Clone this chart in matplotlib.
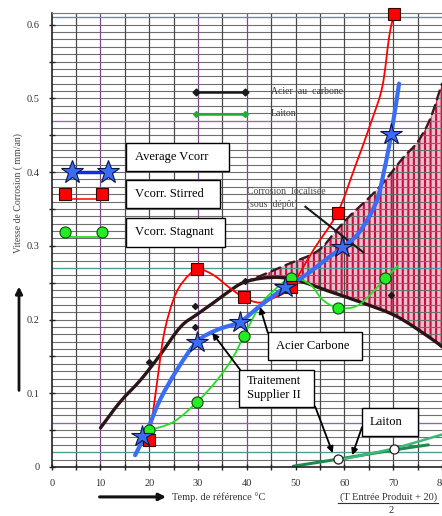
import matplotlib
matplotlib.use("Agg")
import matplotlib.pyplot as plt
from matplotlib.path import Path
from matplotlib.patches import PathPatch, Rectangle, FancyArrowPatch
from matplotlib.lines import Line2D
import numpy as np

plt.rcParams["font.family"] = ["Liberation Serif", "DejaVu Serif"]
plt.rcParams["hatch.linewidth"] = 1.5

# Vcorr measurements (markers)
avg_x = [18.6, 29.8, 38.6, 47.8, 59.6, 69.6]
avg_y = [0.042, 0.170, 0.197, 0.244, 0.298, 0.452]
stirred_x = [20.0, 29.8, 39.4, 49.0, 58.6, 70.2]
stirred_y = [0.037, 0.268, 0.230, 0.244, 0.345, 0.615]
stagnant_x = [20.0, 29.8, 39.4, 49.0, 58.6, 68.4]
stagnant_y = [0.050, 0.088, 0.178, 0.256, 0.216, 0.256]

# curves as drawn on the chart
avg_curve_x = [17.1, 19.6, 22.2, 25.7, 29.8, 33.9, 38.6, 42.6, 47.3, 52.2,
               56.3, 59.6, 63.0, 66.5, 68.2, 69.6, 71.2]
avg_curve_y = [0.016, 0.050, 0.091, 0.132, 0.170, 0.186, 0.197, 0.218, 0.241,
               0.261, 0.282, 0.298, 0.318, 0.359, 0.404, 0.452, 0.520]
stirred_curve_x = [20.0, 21.5, 23.0, 25.0, 27.0, 29.8, 33.0, 36.5, 39.4, 42.6,
                   46.0, 49.0, 53.7, 58.6, 62.0, 65.7, 67.8, 69.2, 70.2]
stirred_curve_y = [0.037, 0.110, 0.180, 0.228, 0.252, 0.268, 0.261, 0.243,
                   0.230, 0.223, 0.231, 0.244, 0.295, 0.345, 0.404, 0.472,
                   0.517, 0.585, 0.615]
stagnant_curve_x = [20.0, 24.9, 29.8, 33.9, 37.1, 39.4, 42.6, 45.3, 49.0, 52.9,
                    55.5, 58.6, 62.4, 65.5, 68.4, 71.0]
stagnant_curve_y = [0.050, 0.061, 0.088, 0.118, 0.148, 0.178, 0.218, 0.238,
                    0.256, 0.248, 0.227, 0.216, 0.218, 0.235, 0.256, 0.273]

# Acier au carbone reference curve and points
carbon_x = [10.0, 14.0, 18.2, 22.0, 26.4, 29.8, 33.2, 36.3, 39.2, 43.0, 47.0,
            51.0, 57.0, 64.0, 70.8, 77.6, 80.0]
carbon_y = [0.053, 0.088, 0.118, 0.150, 0.190, 0.207, 0.223, 0.238, 0.250,
            0.256, 0.257, 0.252, 0.238, 0.222, 0.204, 0.175, 0.163]
carbon_pts_x = [20.0, 29.4, 29.4, 39.6, 69.6]
carbon_pts_y = [0.143, 0.219, 0.190, 0.252, 0.233]

# localised corrosion zone, upper limit
local_x = [39.2, 42.7, 48.0, 54.5, 58.5, 61.3, 64.7, 68.0, 72.1, 74.9, 77.5,
           79.6, 80.0]
local_y = [0.250, 0.259, 0.274, 0.293, 0.322, 0.342, 0.363, 0.386, 0.420,
           0.440, 0.471, 0.512, 0.520]

# Laiton
laiton_x = [49.5, 60.0, 70.0, 77.2]
laiton_y = [0.001, 0.012, 0.023, 0.030]
laiton2_x = [60.0, 70.0, 80.0]
laiton2_y = [0.011, 0.025, 0.044]
laiton_pts_x = [58.6, 70.2]
laiton_pts_y = [0.011, 0.024]

ytick_vals = [0, 0.1, 0.2, 0.3, 0.4, 0.5, 0.6]
ytick_labels = ["0", "0.1", "0.2", "0.3", "0.4", "0.5", "0.6"]
xtick_vals = [0, 10, 20, 30, 40, 50, 60, 70, 80]


def bezier(xs, ys):
    pts = np.column_stack([xs, ys]).astype(float)
    n = len(pts)
    verts = [pts[0]]
    codes = [Path.MOVETO]
    for i in range(n - 1):
        p0 = pts[max(i - 1, 0)]
        p1 = pts[i]
        p2 = pts[i + 1]
        p3 = pts[min(i + 2, n - 1)]
        verts += [p1 + (p2 - p0) / 6, p2 - (p3 - p1) / 6, p2]
        codes += [Path.CURVE4] * 3
    return verts, codes


def curve(ax, xs, ys, **kw):
    verts, codes = bezier(xs, ys)
    ax.add_patch(PathPatch(Path(verts, codes), fill=False, capstyle="round", **kw))


fig = plt.figure(figsize=(4.42, 5.16), dpi=100)
ax = fig.add_axes([0.117, 0.095, 0.883, 0.880])
ax.set_xlim(0, 80)
ax.set_ylim(0, 0.616)

# grid paper
for yv in np.arange(0.01, 0.62, 0.01):
    ax.axhline(yv, color="#6f6f6f", lw=0.8, zorder=0.5)
for yv, c in [(0.02, "#4d9c9c"), (0.06, "#8a6aa8"), (0.27, "#4d9c9c"),
              (0.47, "#9a6aa0"), (0.61, "#4d9c9c")]:
    ax.axhline(yv, color=c, lw=0.9, zorder=0.55)
for xv in range(5, 80, 5):
    c = "#7a4a8a" if xv in (10, 30, 40) else "#4a4a4a"
    ax.axvline(xv, color=c, lw=0.9, zorder=0.5)

# hatched zone between the two limits
vu, cu = bezier(local_x, local_y)
vl, cl = bezier(carbon_x[8:][::-1], carbon_y[8:][::-1])
cl[0] = Path.LINETO
zone = Path(vu + vl + [vu[0]], cu + cl + [Path.CLOSEPOLY])
ax.add_patch(PathPatch(zone, facecolor="#f2bccd", edgecolor="#c40f3c",
                       hatch="|||", lw=0, zorder=0.4))

curve(ax, carbon_x, carbon_y, edgecolor="#2a1416", lw=2.4, zorder=2)
curve(ax, local_x, local_y, edgecolor="#3a1a22", lw=1.7,
      linestyle=(0, (4, 2.5)), zorder=2)
ax.plot(carbon_pts_x, carbon_pts_y, "D", color="#1a1a1a", ms=3, zorder=2.5)

curve(ax, laiton_x, laiton_y, edgecolor="#1f8a4f", lw=2.2, zorder=2)
curve(ax, laiton2_x, laiton2_y, edgecolor="#3cb878", lw=1.8, zorder=2)
ax.plot(laiton_pts_x, laiton_pts_y, "o", mfc="white", mec="#222222",
        ms=6.5, mew=0.9, zorder=5)

curve(ax, stirred_curve_x, stirred_curve_y, edgecolor="#ff0000", lw=1.3, zorder=3)
curve(ax, stagnant_curve_x, stagnant_curve_y, edgecolor="#22e022", lw=1.3, zorder=3)
curve(ax, avg_curve_x, avg_curve_y, edgecolor="#3a6cf4", lw=3.0, zorder=4)

ax.plot(stagnant_x, stagnant_y, "o", mfc="#22ee22", mec="#0b4a0b", ms=8,
        mew=0.8, zorder=5, clip_on=False)
ax.plot(stirred_x, stirred_y, "s", mfc="#ff0000", mec="#3a0000", ms=8,
        mew=0.8, zorder=5, clip_on=False)
ax.plot(avg_x, avg_y, "*", mfc="#3a6cf4", mec="#0d1640", ms=16, mew=0.8,
        zorder=6, clip_on=False)

# series keys on the left
ax.plot([4.1, 11.6], [0.40, 0.40], "-", color="#1030e0", lw=2.5, zorder=6)
ax.plot([4.1, 11.6], [0.40, 0.40], "*", mfc="#3a6cf4", mec="#0d1640",
        ms=17, mew=0.8, zorder=7)
ax.plot([3.7, 10.4], [0.364, 0.364], "-", color="#ff0000", lw=1.1, zorder=6)
ax.plot([2.7, 10.4], [0.371, 0.371], "s", mfc="#ff0000", mec="#3a0000",
        ms=8, mew=0.8, zorder=7)
ax.plot([3.7, 10.4], [0.312, 0.312], "-", color="#22e022", lw=1.3, zorder=6)
ax.plot([2.7, 10.4], [0.319, 0.319], "o", mfc="#22ee22", mec="#0b4a0b",
        ms=8, mew=0.8, zorder=7)

# keys for the reference curves
ax.plot([29.6, 39.6], [0.509, 0.509], "-D", color="#1a1a1a", lw=1.8, ms=3.5, zorder=3)
ax.plot([29.6, 39.6], [0.479, 0.479], "-D", color="#22aa3a", lw=1.8, ms=3, zorder=3)
ax.text(44.9, 0.509, "Acier  au  carbone", fontsize=7, color="#3a3a3a",
        va="center", zorder=3)
ax.text(44.9, 0.479, "Laiton", fontsize=7, color="#3a3a3a", va="center", zorder=3)

# labelled boxes
boxes = [
    (15.2, 0.402, 21.1, 0.038, 17.1, 0.421, "Average Vcorr"),
    (15.2, 0.352, 19.3, 0.037, 17.1, 0.370, "Vcorr. Stirred"),
    (15.2, 0.299, 20.3, 0.039, 17.1, 0.319, "Vcorr. Stagnant"),
    (44.4, 0.145, 19.2, 0.038, 46.0, 0.164, "Acier Carbone"),
    (38.4, 0.082, 15.4, 0.050, 40.0, 0.107, "Traitement\nSupplier II"),
    (63.6, 0.042, 11.5, 0.038, 65.2, 0.061, "Laiton"),
]
for bx, by, bw, bh, tx, ty, label in boxes:
    ax.add_patch(Rectangle((bx, by), bw, bh, facecolor="white",
                           edgecolor="black", lw=1.0, zorder=8))
    ax.text(tx, ty, label, fontsize=9, va="center", ha="left",
            linespacing=1.15, zorder=9)

arrow_kw = dict(arrowstyle="-|>", color="black", lw=1.3, mutation_scale=9,
                shrinkA=0, shrinkB=0)
for start, end in [((44.3, 0.182), (42.7, 0.217)),
                   ((38.6, 0.132), (32.9, 0.182)),
                   ((54.0, 0.082), (57.6, 0.019)),
                   ((63.6, 0.054), (61.6, 0.016))]:
    ax.annotate("", xy=end, xytext=start, arrowprops=arrow_kw, zorder=8)

ax.plot([52.0, 63.9], [0.353, 0.291], color="#1a1a1a", lw=1.5, zorder=3)
ax.text(40.0, 0.374, "Corrosion  localisée", fontsize=7, color="#4a4a4a",
        va="center", zorder=3)
ax.text(40.0, 0.356, "(sous  dépôt)", fontsize=7, color="#4a4a4a",
        va="center", zorder=3)

# axes styling
for side in ("left", "bottom"):
    ax.spines[side].set_color("#222222")
    ax.spines[side].set_linewidth(1.2)
ax.spines["top"].set_color("#777777")
ax.spines["right"].set_visible(False)
ax.set_yticks(ytick_vals)
ax.set_yticklabels(ytick_labels)
ax.set_yticks(np.arange(0.05, 0.61, 0.1), minor=True)
ax.set_xticks(xtick_vals)
ax.set_xticks(range(5, 80, 10), minor=True)
ax.tick_params(which="both", direction="inout", length=5, width=1.0,
               color="#222222", labelsize=7.5, labelcolor="#333333", pad=6)

# axis titles with arrows
fig.text(0.041, 0.625, "Vitesse de Corrosion ( mm/an)", rotation=90,
         fontsize=7, color="#444444", ha="center", va="center")
fig.add_artist(FancyArrowPatch((0.043, 0.238), (0.043, 0.450),
                               transform=fig.transFigure, arrowstyle="-|>",
                               mutation_scale=10, lw=2.0, color="#111111"))
fig.add_artist(FancyArrowPatch((0.219, 0.037), (0.382, 0.037),
                               transform=fig.transFigure, arrowstyle="-|>",
                               mutation_scale=10, lw=2.2, color="#111111"))
fig.text(0.389, 0.037, "Temp. de référence °C", fontsize=7.5, color="#333333",
         va="center", ha="left")
fig.text(0.878, 0.037, "(T Entrée Produit + 20)", fontsize=7.5,
         color="#333333", va="center", ha="center")
fig.add_artist(Line2D([0.765, 0.990], [0.025, 0.025], transform=fig.transFigure,
                      color="#333333", lw=0.8))
fig.text(0.884, 0.010, "2", fontsize=7.5, color="#333333", va="center",
         ha="center")

fig.savefig("out.png", dpi=100)
